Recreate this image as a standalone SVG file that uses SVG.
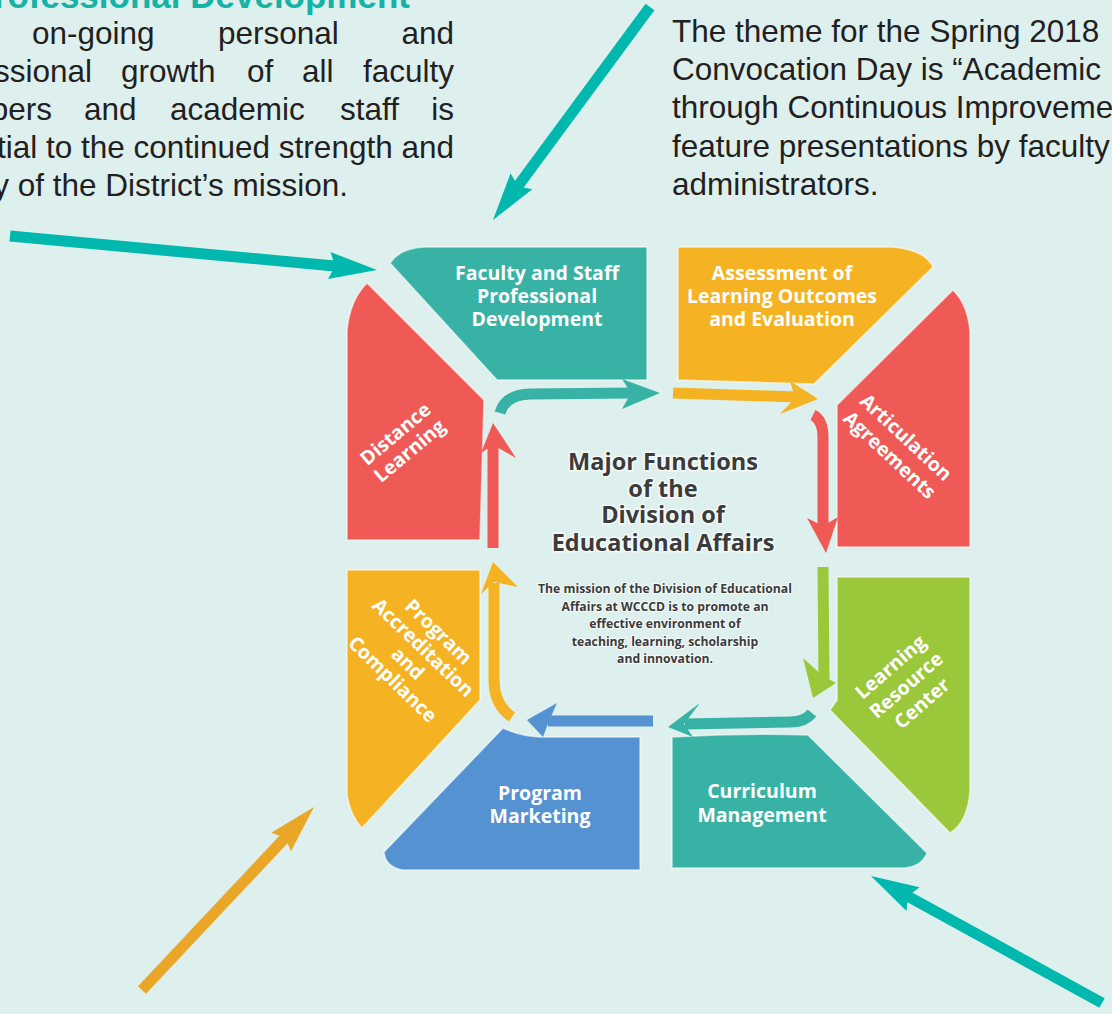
<svg xmlns="http://www.w3.org/2000/svg" width="1112" height="1014" viewBox="0 0 1112 1014">
<defs>
<marker id="ahT" viewBox="-50 -15 52 30" refX="-40" refY="0" markerWidth="52" markerHeight="30" markerUnits="userSpaceOnUse" orient="auto">
<path d="M0,0 L-48,-13.5 L-42,0 L-48,13.5 Z" fill="#00b8ad"/>
</marker>
<marker id="ahO" viewBox="-50 -15 52 30" refX="-40" refY="0" markerWidth="52" markerHeight="30" markerUnits="userSpaceOnUse" orient="auto">
<path d="M0,0 L-48,-13.5 L-42,0 L-48,13.5 Z" fill="#eaa626"/>
</marker>
</defs>
<style>
.body{font-family:"Liberation Sans",Arial,sans-serif;font-size:31.5px;fill:#231f20}
.head{font-family:"Liberation Sans",Arial,sans-serif;font-size:35px;font-weight:bold;fill:#14b3a6}
.lbl{font-family:"Open Sans","Noto Sans",sans-serif;font-weight:700;font-size:19.5px;fill:#ffffff;text-anchor:middle}
.title{font-family:"Open Sans","Noto Sans",sans-serif;font-weight:700;font-size:23.5px;fill:#3b3b3b;text-anchor:middle;stroke:#ffffff;stroke-width:3;stroke-opacity:0.7;paint-order:stroke}
.mis{font-family:"Open Sans","Noto Sans",sans-serif;font-weight:700;font-size:12.2px;fill:#3b3b3b;text-anchor:middle;stroke:#ffffff;stroke-width:2;stroke-opacity:0.7;paint-order:stroke}
.ext{fill:none;stroke-width:11;stroke-linecap:butt}
.in{fill:none;stroke-width:11;stroke-linecap:butt}
.shape{stroke:#ffffff;stroke-width:1.5;stroke-opacity:0.6}
</style>
<rect width="1112" height="1014" fill="#def0ed"/>

<g id="heading">
<text class="head" x="410" y="8" text-anchor="end">Professional Development</text>
</g>
<g id="left-paragraph" class="body">
<text x="32" y="44">on-going</text>
<text x="218" y="44">personal</text>
<text x="454" y="44" text-anchor="end">and</text>
<text x="92" y="82" text-anchor="end">ssional</text>
<text x="121" y="82">growth</text>
<text x="247" y="82">of</text>
<text x="302" y="82">all</text>
<text x="454" y="82" text-anchor="end">faculty</text>
<text x="52" y="120" text-anchor="end">bers</text>
<text x="84" y="120">and</text>
<text x="170" y="120">academic</text>
<text x="340" y="120">staff</text>
<text x="454" y="120" text-anchor="end">is</text>
<text x="454" y="158" text-anchor="end">tial to the continued strength and</text>
<text x="348" y="196" text-anchor="end">y of the District’s mission.</text>
</g>
<g id="right-paragraph" class="body">
<text x="672" y="42">The theme for the Spring 2018</text>
<text x="672" y="80">Convocation Day is “Academic</text>
<text x="672" y="118">through Continuous Improveme</text>
<text x="672" y="157">feature presentations by faculty</text>
<text x="672" y="195">administrators.</text>
</g>

<g id="node-faculty">
<path class="shape" d="M390,263 Q400,248 425,247 L647,247 L647,380 L497,380 Z" fill="#38b2a4"/>
<text class="lbl"><tspan x="537" y="280">Faculty and Staff</tspan><tspan x="537" y="303">Professional</tspan><tspan x="537" y="326">Development</tspan></text>
</g>
<g id="node-assessment">
<path class="shape" d="M678,247 L893,247 Q925,250 933,267 L814,384 L678,380 Z" fill="#f5b323"/>
<text class="lbl"><tspan x="782" y="280">Assessment of</tspan><tspan x="782" y="303">Learning Outcomes</tspan><tspan x="782" y="326">and Evaluation</tspan></text>
</g>
<g id="node-articulation">
<path class="shape" d="M953,290 Q968,305 970,332 L970,547 L837,547 L837,405 Z" fill="#ef5a56"/>
<text class="lbl" transform="translate(898,446) rotate(43)"><tspan x="0" y="-5">Articulation</tspan><tspan x="0" y="19">Agreements</tspan></text>
</g>
<g id="node-lrc">
<path class="shape" d="M837,577 L970,577 L970,790 Q968,822 950,833 L830,710 L837,700 Z" fill="#9bc83b"/>
<text class="lbl" transform="translate(906,685) rotate(-41)"><tspan x="0" y="-17">Learning</tspan><tspan x="0" y="7">Resource</tspan><tspan x="0" y="31">Center</tspan></text>
</g>
<g id="node-curriculum">
<path class="shape" d="M672,737 Q740,733 808,735 L927,853 Q922,866 905,868 L672,868 Z" fill="#38b2a4"/>
<text class="lbl"><tspan x="762" y="798">Curriculum</tspan><tspan x="762" y="822">Management</tspan></text>
</g>
<g id="node-marketing">
<path class="shape" d="M503,728 Q520,736 540,737 L640,737 L640,870 L402,870 Q385,866 384,852 Z" fill="#5592d1"/>
<text class="lbl"><tspan x="540" y="800">Program</tspan><tspan x="540" y="823">Marketing</tspan></text>
</g>
<g id="node-accreditation">
<path class="shape" d="M347,570 L480,570 L480,700 L362,828 Q350,815 347,795 Z" fill="#f5b323"/>
<text class="lbl" transform="translate(415,656) rotate(44)"><tspan x="0" y="-27">Program</tspan><tspan x="0" y="-5">Accreditation</tspan><tspan x="0" y="17">and</tspan><tspan x="0" y="39">Compliance</tspan></text>
</g>
<g id="node-distance">
<path class="shape" d="M367,283 L484,400 L480,540 L347,540 L347,330 Q350,300 367,283 Z" fill="#ef5a56"/>
<text class="lbl" transform="translate(403,443) rotate(-40)"><tspan x="0" y="-5">Distance</tspan><tspan x="0" y="17">Learning</tspan></text>
</g>
<g id="center">
<text class="title"><tspan x="663" y="470">Major Functions</tspan><tspan x="663" y="497">of the</tspan><tspan x="663" y="523">Division of</tspan><tspan x="663" y="551">Educational Affairs</tspan></text>
<text class="mis"><tspan x="665" y="593">The mission of the Division of Educational</tspan><tspan x="665" y="611">Affairs at WCCCD is to promote an</tspan><tspan x="665" y="628">effective environment of</tspan><tspan x="665" y="646">teaching, learning, scholarship</tspan><tspan x="665" y="663">and innovation.</tspan></text>
</g>

<g id="connectors">
<path class="in" stroke="#38b2a4" d="M500,413 Q505,395 530,394 L632,393"/>
<polygon fill="#38b2a4" points="622,379 660,393 622,409 631,393"/>
<path class="in" stroke="#f5b323" d="M673,393 L797,397"/>
<polygon fill="#f5b323" points="790,381 818,399 780,414 795,398"/>
<path class="in" stroke="#ef5a56" d="M813,415 Q823,420 823,437 L823,530"/>
<polygon fill="#ef5a56" points="807,518 826,553 838,517 823,526"/>
<path class="in" stroke="#9bc83b" d="M823,567 L824,680"/>
<polygon fill="#9bc83b" points="803,658 813,698 836,683 823,676"/>
<path class="in" stroke="#38b2a4" d="M812,713 Q805,722 790,722 L685,724"/>
<polygon fill="#38b2a4" points="700,703 668,727 693,737 684,724"/>
<path class="in" stroke="#5592d1" d="M653,721 L548,721"/>
<polygon fill="#5592d1" points="557,703 527,720 543,737 549,721"/>
<path class="in" stroke="#f5b323" d="M512,717 Q494,705 494,680 L494,583"/>
<polygon fill="#f5b323" points="481,594 493,562 518,587 494,582"/>
<path class="in" stroke="#ef5a56" d="M493,548 L493,445"/>
<polygon fill="#ef5a56" points="481,453 493,423 516,458 493,445"/>
<line class="ext" stroke="#00b8ad" x1="10" y1="236" x2="337.2" y2="266.3" marker-end="url(#ahT)"/>
<line class="ext" stroke="#00b8ad" x1="650" y1="7" x2="516.7" y2="187.8" marker-end="url(#ahT)"/>
<line class="ext" stroke="#eaa626" x1="142" y1="990" x2="286.6" y2="836.2" marker-end="url(#ahO)"/>
<line class="ext" stroke="#00b8ad" x1="1102" y1="1003" x2="906" y2="895.3" marker-end="url(#ahT)"/>
</g>
</svg>
